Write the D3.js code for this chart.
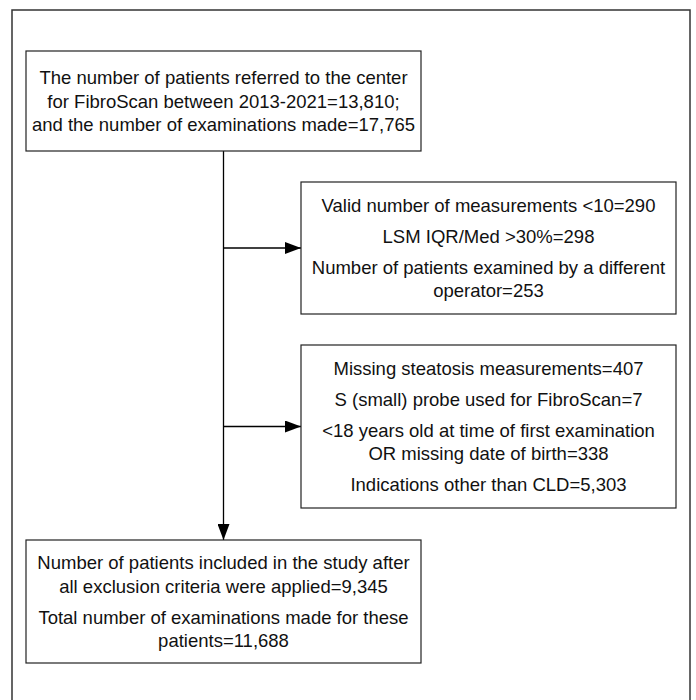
<!DOCTYPE html>
<html>
<head>
<meta charset="utf-8">
<script src="https://cdn.jsdelivr.net/npm/d3@7"></script>
<style>
  body { margin: 0; background: #fff; }
  svg { display: block; }
  text { font-family: "Liberation Sans", Arial, Helvetica, sans-serif; fill: #111; }
</style>
</head>
<body>
<svg id="chart"></svg>
<script>
// Box texts: each box is a list of paragraphs, each paragraph a list of lines
const START_TEXT = [
  ["The number of patients referred to the center",
   "for FibroScan between 2013-2021=13,810;",
   "and the number of examinations made=17,765"]
];
const EXCLUSION_1_TEXT = [
  ["Valid number of measurements <10=290"],
  ["LSM IQR/Med >30%=298"],
  ["Number of patients examined by a different", "operator=253"]
];
const EXCLUSION_2_TEXT = [
  ["Missing steatosis measurements=407"],
  ["S (small) probe used for FibroScan=7"],
  ["<18 years old at time of first examination", "OR missing date of birth=338"],
  ["Indications other than CLD=5,303"]
];
const FINAL_TEXT = [
  ["Number of patients included in the study after", "all exclusion criteria were applied=9,345"],
  ["Total number of examinations made for these", "patients=11,688"]
];

// Layout
const WIDTH = 696;
const HEIGHT = 700;
const FONT_SIZE = 18.5;
const LINE_GAP = 23.5;
const PARA_GAP = 31;
const STROKE = "#222";

const boxes = [
  { id: "start", text: START_TEXT, x0: 26, x1: 421, y0: 51, y1: 151 },
  { id: "ex1", text: EXCLUSION_1_TEXT, x0: 301, x1: 676, y0: 182, y1: 314 },
  { id: "ex2", text: EXCLUSION_2_TEXT, x0: 301, x1: 676, y0: 345, y1: 508 },
  { id: "final", text: FINAL_TEXT, x0: 26, x1: 421, y0: 540, y1: 663 }
];

const svg = d3.select("#chart")
  .attr("width", WIDTH)
  .attr("height", HEIGHT);

// Arrow marker
svg.append("defs").append("marker")
  .attr("id", "arrow")
  .attr("viewBox", "0 0 16 12")
  .attr("refX", 16)
  .attr("refY", 6)
  .attr("markerWidth", 16)
  .attr("markerHeight", 12)
  .attr("markerUnits", "userSpaceOnUse")
  .attr("orient", "auto")
  .append("path")
  .attr("d", "M0,0 L16,6 L0,12 Z")
  .attr("fill", "#000");

// Outer frame
svg.append("rect")
  .attr("x", 12)
  .attr("y", 10)
  .attr("width", 678)
  .attr("height", 720)
  .attr("fill", "none")
  .attr("stroke", "#333")
  .attr("stroke-width", 1.5);

// Connectors
const mainX = (boxes[0].x0 + boxes[0].x1) / 2;
const connectors = [
  [[mainX, boxes[0].y1], [mainX, boxes[3].y0]],
  [[mainX, (boxes[1].y0 + boxes[1].y1) / 2], [boxes[1].x0, (boxes[1].y0 + boxes[1].y1) / 2]],
  [[mainX, (boxes[2].y0 + boxes[2].y1) / 2], [boxes[2].x0, (boxes[2].y0 + boxes[2].y1) / 2]]
];

svg.selectAll(".link")
  .data(connectors)
  .enter()
  .append("path")
  .attr("class", "link")
  .attr("d", d3.line())
  .attr("fill", "none")
  .attr("stroke", "#000")
  .attr("stroke-width", 1.3)
  .attr("marker-end", "url(#arrow)");

// Boxes
const box = svg.selectAll(".box")
  .data(boxes)
  .enter()
  .append("g")
  .attr("class", "box");

box.append("rect")
  .attr("x", d => d.x0)
  .attr("y", d => d.y0)
  .attr("width", d => d.x1 - d.x0)
  .attr("height", d => d.y1 - d.y0)
  .attr("fill", "#fff")
  .attr("stroke", STROKE)
  .attr("stroke-width", 1.2);

// Text lines, block centred in the box
box.each(function (d) {
  const lines = [];
  let y = 0;
  d.text.forEach((para, pi) => {
    para.forEach((line, li) => {
      if (pi > 0 || li > 0) y += li === 0 ? PARA_GAP : LINE_GAP;
      lines.push({ text: line, y: y });
    });
  });
  const offset = (d.y0 + d.y1) / 2 + 6.5 - y / 2;

  d3.select(this).selectAll("text")
    .data(lines)
    .enter()
    .append("text")
    .attr("x", (d.x0 + d.x1) / 2)
    .attr("y", l => offset + l.y)
    .attr("text-anchor", "middle")
    .attr("font-size", FONT_SIZE)
    .text(l => l.text);
});
</script>
</body>
</html>
